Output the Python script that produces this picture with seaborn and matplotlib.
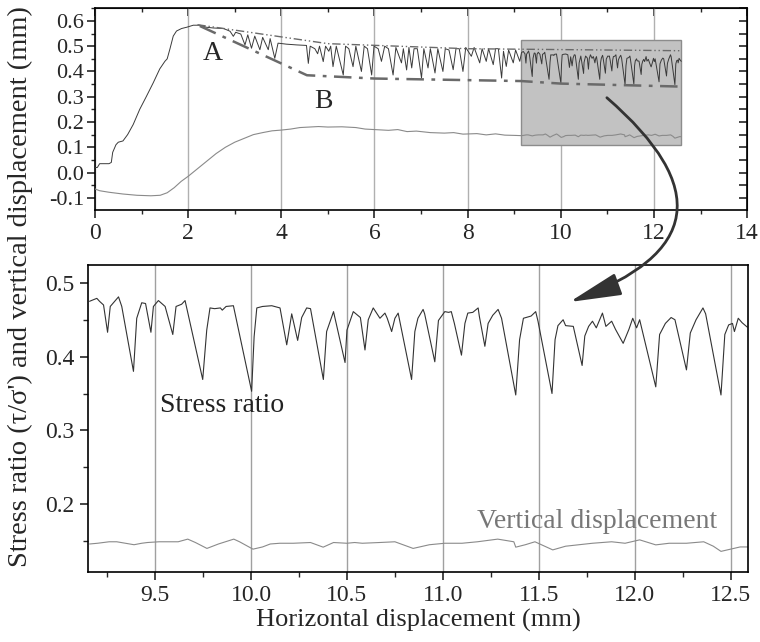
import numpy as np
import pandas as pd
import seaborn as sns
import matplotlib.pyplot as plt
from matplotlib.patches import Rectangle, ConnectionPatch
from matplotlib.ticker import MultipleLocator

sns.set_style('ticks')
plt.rcParams['font.family'] = ['Liberation Serif', 'DejaVu Serif']

# stress ratio, start of the test up to 9.15 mm (top panel only)
early_x = [0.0, 0.05, 0.1, 0.3, 0.35, 0.38, 0.45, 0.5, 0.6, 0.7, 0.82, 0.96, 1.1, 1.25, 1.39,
           1.5, 1.55, 1.61, 1.68, 1.75, 1.86, 1.97, 2.11, 2.25, 2.39, 2.54, 2.76, 2.9, 2.97,
           3.02, 3.13, 3.22, 3.28, 3.36, 3.43, 3.54, 3.6, 3.72, 3.76, 3.86, 3.93, 4.11, 4.33,
           4.54, 4.58, 4.62, 4.72, 4.78, 4.82, 4.9, 4.95, 5.02, 5.06, 5.11, 5.18, 5.33, 5.38,
           5.45, 5.54, 5.6, 5.72, 5.78, 5.85, 5.94, 5.99, 6.08, 6.15, 6.22, 6.3, 6.4, 6.46,
           6.58, 6.62, 6.69, 6.74, 6.8, 6.85, 6.92, 7.01, 7.06, 7.15, 7.2, 7.3, 7.36, 7.47,
           7.52, 7.6, 7.69, 7.75, 7.82, 7.9, 7.96, 8.08, 8.14, 8.26, 8.31, 8.4, 8.45, 8.55,
           8.6, 8.66, 8.73, 8.77, 8.83, 8.88, 8.98, 9.03, 9.12]
early_y = [0.02, 0.02, 0.035, 0.035, 0.04, 0.08, 0.11, 0.12, 0.125, 0.15, 0.19, 0.25, 0.30, 0.355, 0.41,
           0.44, 0.45, 0.49, 0.54, 0.56, 0.57, 0.575, 0.583, 0.583, 0.575, 0.572, 0.57, 0.559, 0.539,
           0.555, 0.548, 0.505, 0.545, 0.492, 0.54, 0.486, 0.535, 0.486, 0.53, 0.452, 0.512, 0.508, 0.505,
           0.503, 0.432, 0.50, 0.49, 0.47, 0.50, 0.439, 0.50, 0.48, 0.50, 0.419, 0.50, 0.386, 0.50,
           0.49, 0.419, 0.50, 0.40, 0.50, 0.49, 0.386, 0.50, 0.49, 0.44, 0.50, 0.49, 0.386, 0.495,
           0.434, 0.49, 0.406, 0.495, 0.414, 0.49, 0.49, 0.374, 0.49, 0.414, 0.49, 0.394, 0.49, 0.40,
           0.49, 0.485, 0.407, 0.49, 0.49, 0.40, 0.495, 0.46, 0.495, 0.434, 0.49, 0.44, 0.49, 0.427,
           0.49, 0.49, 0.374, 0.48, 0.42, 0.485, 0.434, 0.485, 0.44]

# vertical displacement up to 9.15 mm
early_vd_x = [0.0, 0.1, 0.3, 0.6, 0.9, 1.2, 1.4, 1.55, 1.7, 1.85, 2.0, 2.2, 2.4, 2.6, 2.8, 3.0,
              3.2, 3.4, 3.6, 3.8, 4.0, 4.2, 4.4, 4.6, 4.8, 5.0, 5.3, 5.6, 5.8, 6.0, 6.3, 6.5,
              6.7, 6.9, 7.2, 7.5, 7.7, 7.9, 8.2, 8.4, 8.6, 8.8, 9.0]
early_vd_y = [-0.065, -0.072, -0.078, -0.085, -0.09, -0.092, -0.09, -0.08, -0.06, -0.035, -0.015,
              0.015, 0.045, 0.075, 0.10, 0.12, 0.135, 0.15, 0.158, 0.165, 0.168, 0.172, 0.178,
              0.18, 0.182, 0.18, 0.181, 0.178, 0.172, 0.17, 0.167, 0.17, 0.162, 0.164, 0.158,
              0.156, 0.158, 0.152, 0.154, 0.149, 0.153, 0.148, 0.147]

# zoomed window 9.15 - 12.6 mm
zoom_x = [9.158, 9.196, 9.21, 9.231, 9.252, 9.266, 9.309, 9.326, 9.387, 9.404, 9.43, 9.45, 9.478,
          9.491, 9.517, 9.552, 9.592, 9.609, 9.638, 9.656, 9.748, 9.769, 9.786, 9.81, 9.84, 9.85,
          9.87, 9.908, 10.003, 10.016, 10.03, 10.06, 10.108, 10.151, 10.186, 10.212, 10.243, 10.264,
          10.29, 10.31, 10.377, 10.394, 10.43, 10.49, 10.50, 10.533, 10.57, 10.594, 10.611, 10.637,
          10.672, 10.698, 10.71, 10.733, 10.75, 10.767, 10.837, 10.854, 10.87, 10.897, 10.905,
          10.958, 10.977, 11.01, 11.03, 11.044, 11.06, 11.097, 11.115, 11.13, 11.156, 11.184,
          11.19, 11.219, 11.236, 11.26, 11.288, 11.306, 11.38, 11.40, 11.42, 11.46, 11.484,
          11.496, 11.569, 11.585, 11.6, 11.627, 11.64, 11.68, 11.726, 11.74, 11.76, 11.78, 11.8,
          11.832, 11.85, 11.88, 11.90, 11.94, 11.97, 11.99, 12.01, 12.026, 12.11, 12.13, 12.16,
          12.19, 12.21, 12.27, 12.29, 12.32, 12.356, 12.37, 12.45, 12.47, 12.49, 12.51, 12.52,
          12.54, 12.56, 12.587]
zoom_stress = [0.475, 0.479, 0.475, 0.470, 0.433, 0.468, 0.481, 0.468, 0.380, 0.452, 0.473, 0.472,
               0.433, 0.468, 0.476, 0.468, 0.430, 0.468, 0.471, 0.476, 0.369, 0.436, 0.466, 0.465,
               0.466, 0.463, 0.468, 0.469, 0.353, 0.427, 0.466, 0.468, 0.469, 0.466, 0.416, 0.458,
               0.422, 0.453, 0.466, 0.465, 0.369, 0.434, 0.461, 0.392, 0.436, 0.461, 0.453, 0.409,
               0.450, 0.466, 0.452, 0.459, 0.452, 0.434, 0.452, 0.459, 0.369, 0.434, 0.452, 0.464,
               0.458, 0.393, 0.449, 0.461, 0.460, 0.461, 0.445, 0.402, 0.445, 0.459, 0.460, 0.466,
               0.455, 0.414, 0.445, 0.456, 0.464, 0.452, 0.348, 0.423, 0.452, 0.455, 0.461, 0.448,
               0.350, 0.423, 0.442, 0.450, 0.442, 0.441, 0.388, 0.428, 0.441, 0.448, 0.439, 0.459,
               0.441, 0.448, 0.437, 0.418, 0.437, 0.452, 0.439, 0.450, 0.359, 0.430, 0.445, 0.453,
               0.450, 0.382, 0.432, 0.450, 0.466, 0.458, 0.348, 0.430, 0.443, 0.445, 0.434, 0.452,
               0.446, 0.440]
zoom_vd_x = [9.158, 9.2, 9.26, 9.3, 9.39, 9.43, 9.46, 9.52, 9.58, 9.62, 9.67, 9.71, 9.77, 9.83,
             9.91, 9.94, 10.01, 10.06, 10.1, 10.15, 10.22, 10.31, 10.376, 10.43, 10.5, 10.54,
             10.58, 10.67, 10.75, 10.845, 10.93, 11.01, 11.1, 11.18, 11.286, 11.37, 11.38, 11.43,
             11.48, 11.573, 11.64, 11.71, 11.78, 11.88, 11.95, 12.026, 12.11, 12.18, 12.27, 12.36,
             12.41, 12.45, 12.5, 12.55, 12.59]
zoom_vd = [0.146, 0.147, 0.149, 0.149, 0.145, 0.147, 0.148, 0.149, 0.149, 0.149, 0.1526, 0.148,
           0.140, 0.146, 0.1526, 0.149, 0.139, 0.142, 0.146, 0.147, 0.147, 0.148, 0.1417, 0.148,
           0.147, 0.148, 0.147, 0.148, 0.149, 0.140, 0.145, 0.147, 0.147, 0.149, 0.1526, 0.149,
           0.1417, 0.145, 0.149, 0.138, 0.143, 0.145, 0.147, 0.149, 0.147, 0.1516, 0.1448, 0.147,
           0.147, 0.149, 0.143, 0.136, 0.139, 0.142, 0.142]

# envelope lines (A: upper, B: lower)
env_a_x = [2.2, 5.0, 8.0, 12.6]
env_a_y = [0.585, 0.51, 0.49, 0.482]
env_b_x = [2.25, 4.55, 6.0, 9.15, 10.0, 12.6]
env_b_y = [0.58, 0.385, 0.372, 0.362, 0.352, 0.34]

win = (9.15, 12.59, 0.108, 0.524)

top = pd.DataFrame({'x': early_x + zoom_x, 'y': early_y + zoom_stress})
top_vd = pd.DataFrame({'x': early_vd_x + zoom_vd_x, 'y': early_vd_y + zoom_vd})

fig = plt.figure(figsize=(7.6, 6.42), dpi=100)
ax1 = fig.add_axes([0.125, 0.673, 0.858, 0.3145])
ax2 = fig.add_axes([0.1158, 0.109, 0.8682, 0.478])

# top panel
ax1.add_patch(Rectangle((win[0], win[2]), win[1] - win[0], win[3] - win[2],
                        facecolor='#c2c2c2', edgecolor='#8c8c8c', lw=1, zorder=1))
sns.lineplot(data=top, x='x', y='y', ax=ax1, color='#3a3a3a', lw=0.7, estimator=None, zorder=3)
sns.lineplot(data=top_vd, x='x', y='y', ax=ax1, color='#8a8a8a', lw=0.8, estimator=None, zorder=3)
ax1.plot(env_a_x, env_a_y, color='#6a6a6a', lw=1.0, ls=(0, (6, 2, 1, 2, 1, 2)), zorder=4)
ax1.plot(env_b_x, env_b_y, color='#6a6a6a', lw=1.8, ls=(0, (7, 3, 1.5, 3)), zorder=4)
ax1.text(2.53, 0.47, 'A', fontsize=20, ha='center', va='center')
ax1.text(4.9, 0.28, 'B', fontsize=20, ha='center', va='center')
ax1.set_xlim(0, 14)
ax1.set_ylim(-0.148, 0.651)
ax1.xaxis.set_major_locator(MultipleLocator(2))
ax1.xaxis.set_minor_locator(MultipleLocator(1))
ax1.yaxis.set_minor_locator(MultipleLocator(0.05))
ax1.set_yticks(np.arange(-0.1, 0.61, 0.1))
ax1.set_yticklabels([f'{v:.1f}' for v in np.arange(-0.1, 0.61, 0.1)])
ax1.tick_params(axis='x', which='major', direction='out', length=6, width=1.2, labelsize=17)
ax1.tick_params(axis='x', which='minor', direction='out', length=3, width=1.0)
ax1.tick_params(axis='y', which='major', direction='out', length=6, width=1.2, labelsize=16, pad=2)
ax1.tick_params(axis='y', which='minor', direction='out', length=3, width=1.0)
sec_x = ax1.secondary_xaxis('top')
sec_x.xaxis.set_major_locator(MultipleLocator(2))
sec_x.xaxis.set_minor_locator(MultipleLocator(1))
sec_x.tick_params(which='major', direction='in', length=6, width=1.2, labeltop=False)
sec_x.tick_params(which='minor', direction='in', length=3, width=1.0)
sec_y = ax1.secondary_yaxis('right')
sec_y.yaxis.set_major_locator(MultipleLocator(0.05))
sec_y.tick_params(direction='in', length=6, width=1.2, labelright=False)
ax1.grid(axis='x', which='major', color='#b0b0b0', lw=1)
ax1.set_xlabel('')
ax1.set_ylabel('')

# bottom panel
sns.lineplot(x=zoom_x, y=zoom_stress, ax=ax2, color='#333333', lw=0.8, estimator=None)
sns.lineplot(x=zoom_vd_x, y=zoom_vd, ax=ax2, color='#8a8a8a', lw=0.8, estimator=None)
ax2.text(9.526, 0.325, 'Stress ratio', fontsize=20, color='#222222')
ax2.text(11.18, 0.168, 'Vertical displacement', fontsize=20, color='#777777')
ax2.set_xlim(win[0], win[1])
ax2.set_ylim(win[2], win[3])
ax2.xaxis.set_major_locator(MultipleLocator(0.5))
ax2.xaxis.set_minor_locator(MultipleLocator(0.25))
ax2.yaxis.set_major_locator(MultipleLocator(0.1))
ax2.yaxis.set_minor_locator(MultipleLocator(0.05))
ax2.xaxis.set_major_formatter(plt.FormatStrFormatter('%.1f'))
ax2.yaxis.set_major_formatter(plt.FormatStrFormatter('%.1f'))
ax2.tick_params(which='major', direction='out', length=6, width=1.2, labelsize=17)
ax2.tick_params(which='minor', direction='out', length=3.5, width=1.0)
ax2.grid(axis='x', which='major', color='#a0a0a0', lw=1)
ax2.set_xlabel('Horizontal displacement (mm)', fontsize=19, labelpad=2)
ax2.set_ylabel('')

for ax in (ax1, ax2):
    for s in ax.spines.values():
        s.set_visible(True)
        s.set_linewidth(1.2)
        s.set_color('black')

fig.text(0.027, 0.553, "Stress ratio (\u03c4/\u03c3') and vertical displacement (mm)",
         rotation=90, fontsize=20.5, ha='center', va='center')

# curved arrow from the window to the zoomed panel
con = ConnectionPatch(xyA=(10.99, 0.296), coordsA=ax1.transData,
                      xyB=(11.66, 0.474), coordsB=ax2.transData,
                      arrowstyle='-|>,head_length=1.6,head_width=0.35', mutation_scale=20,
                      connectionstyle='arc3,rad=-0.85', color='#333333', lw=2, zorder=10)
fig.add_artist(con)

fig.savefig('out.png', dpi=100)
